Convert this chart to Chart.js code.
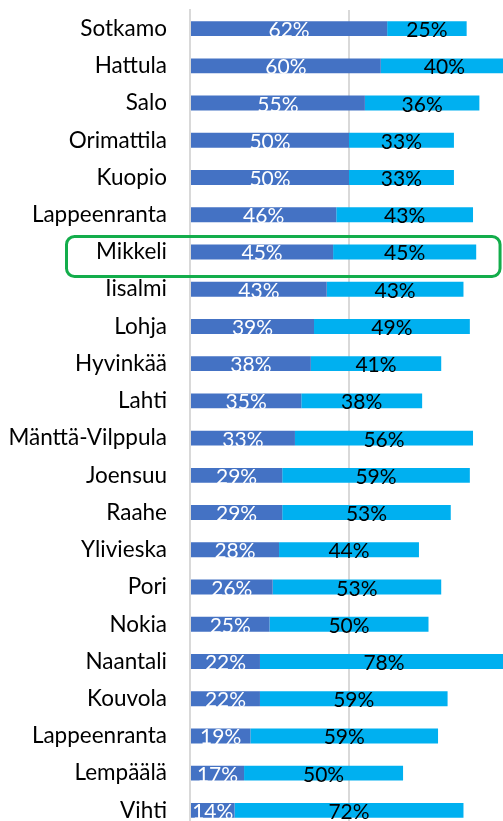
<!DOCTYPE html>
<html lang="fi">

<head>
    <meta charset="UTF-8">
    <title>Kaupungit</title>
    <style>
        html, body {
            margin: 0;
            padding: 0;
            background: #fff;
            overflow: hidden;
        }

        .myChart {
            width: 508px;
            height: 829px;
        }
    </style>
</head>

<body>
    <div class="myChart">
        <canvas id="myChart"></canvas>
    </div>

    <!-- chart.js -->
    <script src="https://cdn.jsdelivr.net/npm/chart.js"></script>

    <script>
        // data
        const cities = ['Sotkamo', 'Hattula', 'Salo', 'Orimattila', 'Kuopio', 'Lappeenranta', 'Mikkeli',
            'Iisalmi', 'Lohja', 'Hyvinkää', 'Lahti', 'Mänttä-Vilppula', 'Joensuu', 'Raahe', 'Ylivieska',
            'Pori', 'Nokia', 'Naantali', 'Kouvola', 'Lappeenranta', 'Lempäälä', 'Vihti'];
        const darkValues = [62, 60, 55, 50, 50, 46, 45, 43, 39, 38, 35, 33, 29, 29, 28, 26, 25, 22, 22, 19, 17, 14];
        const lightValues = [25, 40, 36, 33, 33, 43, 45, 43, 49, 41, 38, 56, 59, 53, 44, 53, 50, 78, 59, 59, 50, 72];
        const gridTicks = [0, 50, 100];
        const highlightIndex = 6; // Mikkeli

        // prosentit palkkien päälle
        const barLabels = {
            id: 'barLabels',
            afterDatasetsDraw(chart) {
                const ctx = chart.ctx;
                ctx.save();
                ctx.font = '21px Lato';
                ctx.textAlign = 'center';
                ctx.textBaseline = 'alphabetic';
                chart.data.datasets.forEach((ds, i) => {
                    const meta = chart.getDatasetMeta(i);
                    ctx.fillStyle = ds.labelColor;
                    meta.data.forEach((bar, j) => {
                        const x = (bar.x + bar.base) / 2;
                        ctx.fillText(ds.data[j] + '%', x, bar.y + 8.5);
                    });
                });
                ctx.restore();
            }
        };

        // vihreä kehys
        const highlightBox = {
            id: 'highlightBox',
            afterDraw(chart) {
                const ctx = chart.ctx;
                const y = chart.scales.y.getPixelForValue(highlightIndex);
                const x0 = 66.5;
                const x1 = chart.scales.x.getPixelForValue(97.5);
                ctx.save();
                ctx.strokeStyle = '#13AD4B';
                ctx.lineWidth = 3;
                ctx.beginPath();
                ctx.roundRect(x0, y - 15.5, x1 - x0, 40, 8);
                ctx.stroke();
                ctx.restore();
            }
        };

        const ctx = document.getElementById('myChart').getContext('2d');
        const myChart = new Chart(ctx, {
            type: 'bar',
            data: {
                labels: cities,
                datasets: [{
                    data: darkValues,
                    backgroundColor: '#4472C4',
                    labelColor: '#ffffff',
                    categoryPercentage: 0.4,
                    barPercentage: 1
                }, {
                    data: lightValues,
                    backgroundColor: '#00B0F0',
                    labelColor: '#000000',
                    categoryPercentage: 0.4,
                    barPercentage: 1
                }]
            },
            plugins: [barLabels, highlightBox],
            options: {
                indexAxis: 'y',
                responsive: true,
                maintainAspectRatio: false,
                animation: false,
                layout: {
                    padding: { top: 10, left: 0, right: 0, bottom: 0 }
                },
                plugins: {
                    legend: { display: false },
                    tooltip: { enabled: false }
                },
                scales: {
                    x: {
                        stacked: true,
                        min: 0,
                        max: 100,
                        afterBuildTicks: (axis) => {
                            axis.ticks = gridTicks.map(v => ({ value: v }));
                        },
                        afterFit: (axis) => {
                            axis.height = 0;
                            axis.paddingLeft = 0;
                            axis.paddingRight = 0;
                        },
                        ticks: { display: false },
                        grid: { color: '#d9d9d9', lineWidth: 2, drawTicks: false },
                        border: { display: false }
                    },
                    y: {
                        stacked: true,
                        afterFit: (axis) => {
                            axis.width = 190;
                            axis.paddingTop = 0;
                            axis.paddingBottom = 0;
                        },
                        ticks: {
                            color: '#000000',
                            padding: 23,
                            autoSkip: false,
                            font: { family: 'Lato', size: 22.5 }
                        },
                        grid: { display: false, drawTicks: false },
                        border: { color: '#d9d9d9', width: 2 }
                    }
                }
            }
        });
    </script>

</body>

</html>
